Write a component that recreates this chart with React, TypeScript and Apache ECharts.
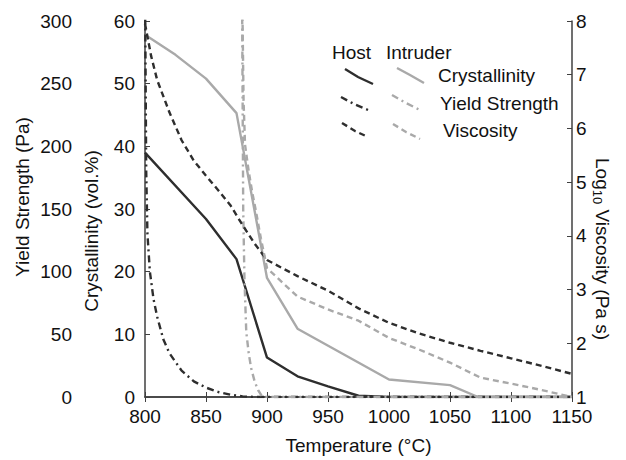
import React, { useEffect, useRef } from "react";
import * as echarts from "echarts";

// ---- Data ----
const hostCrystT = [800, 850, 875, 900, 925, 950, 975, 1000, 1150];
const hostCrystV = [39, 28.4, 22, 6.3, 3.3, 1.7, 0.2, 0, 0];

const intrCrystT = [800, 825, 850, 875, 900, 925, 1000, 1050, 1073, 1150];
const intrCrystV = [57.8, 54.6, 50.8, 45.3, 19, 10.9, 2.8, 1.9, 0, 0];

const hostYieldT = [800, 801, 802, 804, 807, 810, 815, 820, 830, 840, 850, 860, 870, 880, 890, 1150];
const hostYieldV = [330, 180, 130, 100, 78, 64, 46, 35, 21, 12.5, 7.5, 4, 1.8, 0.5, 0, 0];

const intrYieldT = [879.5, 880.5, 881.5, 883, 885, 887, 890, 893, 896, 900, 1150];
const intrYieldV = [330, 150, 95, 52, 35, 23, 12, 5, 0.5, 0, 0];

const hostViscT = [800, 805, 810, 820, 830, 840, 850, 860, 870, 880, 890, 900, 925, 950, 975, 1000, 1025, 1050, 1075, 1100, 1125, 1150];
const hostViscV = [7.95, 7.35, 6.9, 6.3, 5.78, 5.4, 5.12, 4.85, 4.57, 4.2, 3.85, 3.55, 3.25, 2.98, 2.65, 2.38, 2.18, 2.01, 1.86, 1.72, 1.58, 1.43];

const intrViscT = [879.8, 880.8, 882, 885, 888, 891, 895, 900, 925, 950, 975, 1000, 1025, 1050, 1075, 1100, 1125, 1150];
const intrViscV = [8.3, 6.5, 5.7, 5.2, 4.8, 4.45, 3.95, 3.4, 2.87, 2.63, 2.42, 2.1, 1.88, 1.64, 1.36, 1.25, 1.13, 1.0];

const crystTicks = { min: 0, max: 60, interval: 10 };
const yieldTicks = { min: 0, max: 300, interval: 50 };
const viscTicks = { min: 1, max: 8, interval: 1 };
const tempTicks = { min: 800, max: 1150, interval: 50 };

const DARK = "#2e2e2e";
const GRAY = "#a9a9a9";
const AXIS = "#404040";
const FONT = "Liberation Sans";
const FS = 19;
const DASH = [6, 4];
const DASHDOT = [7, 4, 2, 4];

const zip = (t: number[], v: number[]) => t.map((x, i) => [x, v[i]]);

export default function App() {
  const ref = useRef<HTMLDivElement>(null);
  useEffect(() => {
    if (!ref.current) return;
    const chart = echarts.init(ref.current, undefined, { renderer: "svg" });
    const axisLine = { show: true, lineStyle: { color: AXIS, width: 1.5 } };
    const tick = { show: true, inside: true, length: 5, lineStyle: { color: AXIS, width: 1 } };
    const label = { color: "#111", fontSize: FS, fontFamily: FONT, formatter: (v: number) => String(v) };
    const line = (name: string, data: number[][], color: string, dash: number[] | "solid", yIdx: number) => ({
      name,
      type: "line",
      yAxisIndex: yIdx,
      data,
      showSymbol: false,
      symbol: "none",
      clip: true,
      lineStyle: { color, width: 2.4, type: dash },
    });
    const legendLine = (pts: number[][], color: string, dash: number[] | null) => ({
      type: "polyline",
      shape: { points: pts },
      style: { stroke: color, lineWidth: 2.4, lineDash: dash || undefined, fill: null },
    });
    const txt = (text: string, x: number, y: number, extra: any = {}) => ({
      type: "text",
      x,
      y,
      style: { text, fontSize: FS, fontFamily: FONT, fill: "#111", verticalAlign: "middle", ...extra },
    });
    chart.setOption({
      animation: false,
      backgroundColor: "#fff",
      grid: { left: 145, right: 54, top: 21, bottom: 58, containLabel: false },
      xAxis: [
        {
          type: "value",
          ...tempTicks,
          axisLine,
          axisTick: tick,
          splitLine: { show: false },
          axisLabel: { ...label, margin: 10 },
          name: "Temperature (°C)",
          nameLocation: "middle",
          nameGap: 39,
          nameTextStyle: { color: "#111", fontSize: FS, fontFamily: FONT },
        },
        {
          type: "value",
          position: "top",
          ...tempTicks,
          axisLine,
          axisTick: tick,
          splitLine: { show: false },
          axisLabel: { show: false },
        },
      ],
      yAxis: [
        {
          type: "value",
          position: "left",
          ...crystTicks,
          axisLine,
          axisTick: tick,
          splitLine: { show: false },
          axisLabel: { ...label, margin: 10 },
        },
        {
          type: "value",
          position: "left",
          offset: 63,
          ...yieldTicks,
          axisLine: { show: false },
          axisTick: { show: false },
          splitLine: { show: false },
          axisLabel: { ...label, margin: 10 },
        },
        {
          type: "value",
          position: "right",
          ...viscTicks,
          axisLine,
          axisTick: tick,
          splitLine: { show: false },
          axisLabel: { ...label, margin: 4 },
        },
      ],
      series: [
        line("Host Crystallinity", zip(hostCrystT, hostCrystV), DARK, "solid", 0),
        line("Intruder Crystallinity", zip(intrCrystT, intrCrystV), GRAY, "solid", 0),
        line("Host Yield Strength", zip(hostYieldT, hostYieldV), DARK, DASHDOT, 1),
        line("Intruder Yield Strength", zip(intrYieldT, intrYieldV), GRAY, DASHDOT, 1),
        line("Host Viscosity", zip(hostViscT, hostViscV), DARK, DASH, 2),
        line("Intruder Viscosity", zip(intrViscT, intrViscV), GRAY, DASH, 2),
      ],
      graphic: [
        txt("Yield Strength (Pa)", 22, 197, { align: "center" }),
        txt("Crystallinity (vol.%)", 91, 231, { align: "center" }),
        txt("Host", 332, 52),
        txt("Intruder", 386, 52),
        txt("Crystallinity", 438, 75),
        txt("Yield Strength", 440, 103),
        txt("Viscosity", 443, 130),
        legendLine([[345, 69], [358, 77], [373, 84]], DARK, null),
        legendLine([[397, 68], [410, 75], [424, 83]], GRAY, null),
        legendLine([[341, 97], [354, 104], [368, 110]], DARK, DASHDOT),
        legendLine([[392, 95], [406, 103], [420, 110]], GRAY, DASHDOT),
        legendLine([[342, 123], [355, 131], [368, 137]], DARK, DASH),
        legendLine([[393, 124], [406, 132], [420, 139]], GRAY, DASH),
        {
          type: "text",
          x: 602,
          y: 249,
          rotation: -Math.PI / 2,
          style: {
            text: "Log{sub|10} Viscosity (Pa s)",
            fontSize: FS,
            fontFamily: FONT,
            fill: "#111",
            align: "center",
            verticalAlign: "middle",
            rich: {
              sub: { fontSize: 13, fontFamily: FONT, fill: "#111", padding: [10, 0, 0, 0] },
            },
          },
        },
      ].map((g: any, i: number) =>
        i < 2 ? { ...g, rotation: Math.PI / 2 } : g
      ),
    });
    return () => chart.dispose();
  }, []);
  return (
    <div
      ref={ref}
      style={{ position: "fixed", left: 0, top: 0, width: 626, height: 460 }}
    />
  );
}
